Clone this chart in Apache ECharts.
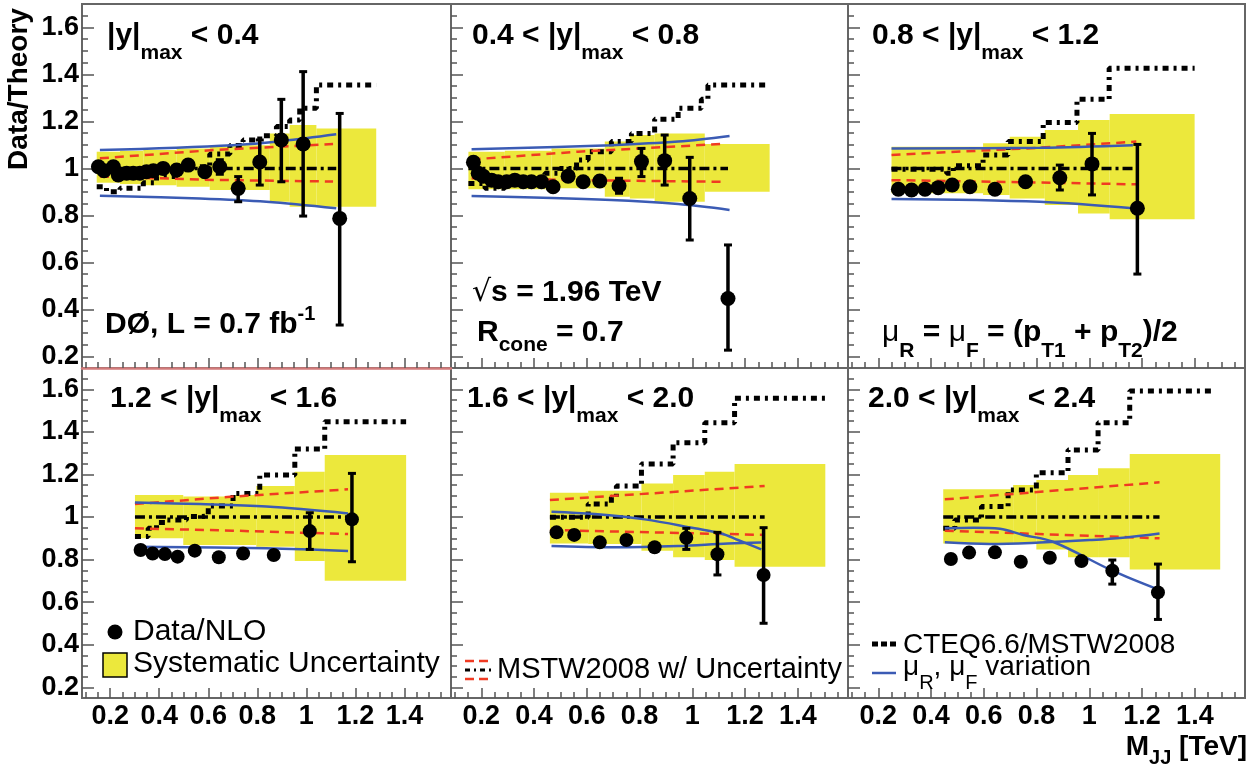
<!DOCTYPE html>
<html><head><meta charset="utf-8">
<script src="https://cdn.jsdelivr.net/npm/echarts@6/dist/echarts.min.js"></script>
<style>html,body{margin:0;padding:0;background:#fff}#c{width:1258px;height:767px}</style>
</head><body><div id="c"></div><script>
// ---------------- DATA ----------------
// Panel 1: |y|max < 0.4
const p1X = [0.152,0.175,0.213,0.233,0.267,0.294,0.321,0.348,0.376,0.416,0.471,0.518,0.586,0.647,0.722,0.810,0.898,0.987,1.136];
const p1Y = [1.007,0.990,1.007,0.972,0.979,0.979,0.979,0.986,0.990,1.000,0.993,1.014,0.986,1.007,0.915,1.027,1.121,1.104,0.787];
const p1ErrLo = [0.997,0.980,0.997,0.962,0.969,0.969,0.969,0.976,0.980,0.990,0.981,1.000,0.970,0.975,0.858,0.929,0.943,0.797,0.333];
const p1ErrHi = [1.017,1.000,1.017,0.982,0.989,0.989,0.989,0.996,1.000,1.010,1.005,1.028,1.002,1.037,0.965,1.121,1.294,1.412,1.234];
const p1BandEdges = [0.145,0.240,0.335,0.471,0.606,0.701,0.851,0.932,1.041,1.285];
const p1BandHi = [1.071,1.075,1.078,1.085,1.092,1.099,1.149,1.185,1.170];
const p1BandLo = [0.939,0.933,0.928,0.922,0.908,0.908,0.858,0.837,0.837];
const p1CteqEdges = [0.145,0.185,0.240,0.335,0.389,0.471,0.606,0.688,0.742,0.810,0.878,0.932,0.973,1.041,1.285];
const p1CteqVals = [0.922,0.901,0.915,0.939,0.965,1.007,1.061,1.097,1.121,1.139,1.178,1.206,1.256,1.355];
const p1MstwRange = [0.145,1.122];
const p1RedX = [0.158,0.620,1.109];
const p1RedUp = [1.043,1.078,1.104];
const p1RedLo = [0.965,0.951,0.944];
const p1BlueUpX = [0.158,0.701,0.905,1.122];
const p1BlueUp = [1.078,1.099,1.117,1.145];
const p1BlueLoX = [0.158,0.566,0.837,1.122];
const p1BlueLo = [0.884,0.872,0.858,0.830];

// Panel 2: 0.4 < |y|max < 0.8
const p2X = [0.170,0.188,0.207,0.239,0.264,0.296,0.327,0.359,0.390,0.428,0.472,0.529,0.586,0.649,0.722,0.807,0.895,0.990,1.135];
const p2Y = [1.026,0.979,0.967,0.950,0.943,0.943,0.950,0.943,0.943,0.943,0.922,0.967,0.943,0.946,0.926,1.029,1.033,0.872,0.446];
const p2ErrLo = [1.016,0.969,0.957,0.940,0.933,0.933,0.940,0.933,0.933,0.933,0.912,0.957,0.933,0.936,0.894,0.965,0.929,0.695,0.226];
const p2ErrHi = [1.036,0.989,0.977,0.960,0.953,0.953,0.960,0.953,0.953,0.953,0.932,0.977,0.953,0.956,0.958,1.085,1.142,1.047,0.674];
const p2BandEdges = [0.151,0.289,0.466,0.668,0.763,0.857,1.047,1.293];
const p2BandHi = [1.071,1.075,1.085,1.114,1.142,1.149,1.104];
const p2BandLo = [0.911,0.911,0.915,0.879,0.872,0.858,0.901];
const p2CteqEdges = [0.151,0.214,0.289,0.441,0.498,0.561,0.605,0.693,0.769,0.857,0.946,1.034,1.059,1.293];
const p2CteqVals = [0.936,0.915,0.943,0.979,1.000,1.036,1.071,1.114,1.149,1.209,1.256,1.294,1.355];
const p2MstwRange = [0.151,1.135];
const p2RedX = [0.163,0.567,1.110];
const p2RedUp = [1.038,1.071,1.104];
const p2RedLo = [0.958,0.950,0.943];
const p2BlueUpX = [0.163,0.693,0.946,1.141];
const p2BlueUp = [1.081,1.099,1.114,1.138];
const p2BlueLoX = [0.163,0.693,0.946,1.141];
const p2BlueLo = [0.882,0.865,0.848,0.823];

// Panel 3: 0.8 < |y|max < 1.2
const p3X = [0.276,0.326,0.377,0.427,0.480,0.547,0.642,0.758,0.888,1.010,1.182];
const p3Y = [0.911,0.908,0.911,0.918,0.929,0.922,0.911,0.943,0.960,1.019,0.830];
const p3ErrLo = [0.901,0.898,0.901,0.908,0.919,0.912,0.901,0.930,0.908,0.887,0.550];
const p3ErrHi = [0.921,0.918,0.921,0.928,0.939,0.932,0.921,0.956,1.014,1.149,1.102];
const p3BandEdges = [0.250,0.597,0.698,0.831,0.957,1.077,1.399];
const p3BandHi = [1.092,1.107,1.135,1.163,1.206,1.232];
const p3BandLo = [0.894,0.887,0.872,0.844,0.808,0.783];
const p3CteqEdges = [0.250,0.459,0.484,0.597,0.692,0.825,0.953,1.075,1.399];
const p3CteqVals = [0.996,0.979,1.011,1.057,1.114,1.195,1.294,1.426];
const p3MstwRange = [0.250,1.178];
const p3RedX = [0.250,0.812,1.178];
const p3RedUp = [1.057,1.088,1.114];
const p3RedLo = [0.950,0.940,0.932];
const p3BlueUpX = [0.250,0.812,1.165];
const p3BlueUp = [1.085,1.088,1.099];
const p3BlueLoX = [0.250,0.812,1.165];
const p3BlueLo = [0.870,0.858,0.830];

// Panel 4: 1.2 < |y|max < 1.6
const p4X = [0.324,0.373,0.423,0.475,0.545,0.643,0.742,0.867,1.014,1.186];
const p4Y = [0.845,0.829,0.826,0.814,0.842,0.811,0.829,0.822,0.934,0.989];
const p4ErrLo = [0.835,0.819,0.816,0.804,0.832,0.801,0.819,0.812,0.848,0.790];
const p4ErrHi = [0.855,0.839,0.836,0.824,0.852,0.821,0.839,0.832,1.020,1.205];
const p4BandEdges = [0.301,0.498,0.701,0.796,0.953,1.075,1.407];
const p4BandHi = [1.103,1.096,1.103,1.146,1.213,1.291];
const p4BandLo = [0.900,0.869,0.869,0.861,0.793,0.701];
const p4CteqEdges = [0.301,0.355,0.389,0.430,0.511,0.566,0.600,0.701,0.810,0.953,1.075,1.407];
const p4CteqVals = [0.908,0.947,0.974,0.986,1.002,1.005,1.052,1.111,1.197,1.320,1.448];
const p4MstwRange = [0.301,1.170];
const p4RedX = [0.301,0.701,1.170];
const p4RedUp = [1.061,1.096,1.130];
const p4RedLo = [0.947,0.936,0.920];
const p4BlueUpX = [0.301,0.566,0.837,1.170];
const p4BlueUp = [1.068,1.061,1.049,1.017];
const p4BlueLoX = [0.301,0.837,1.170];
const p4BlueLo = [0.861,0.853,0.840];

// Panel 5: 1.6 < |y|max < 2.0
const p5X = [0.485,0.552,0.649,0.750,0.857,0.977,1.095,1.270];
const p5Y = [0.928,0.916,0.881,0.892,0.858,0.903,0.825,0.728];
const p5ErrLo = [0.918,0.906,0.871,0.882,0.848,0.848,0.728,0.501];
const p5ErrHi = [0.938,0.926,0.891,0.902,0.868,0.947,0.928,0.950];
const p5BandEdges = [0.460,0.605,0.807,0.927,1.047,1.160,1.504];
const p5BandHi = [1.114,1.124,1.158,1.197,1.213,1.249];
const p5BandLo = [0.876,0.873,0.842,0.811,0.798,0.767];
const p5CteqEdges = [0.460,0.605,0.693,0.712,0.807,0.927,1.047,1.160,1.504];
const p5CteqVals = [0.999,1.061,1.093,1.146,1.249,1.349,1.443,1.558];
const p5MstwRange = [0.460,1.274];
const p5RedX = [0.460,1.274];
const p5RedUp = [1.080,1.146];
const p5RedLo = [0.939,0.916];
const p5BlueUpX = [0.466,0.630,0.820,1.009,1.110,1.173,1.261];
const p5BlueUp = [1.025,1.014,0.989,0.947,0.923,0.892,0.848];
const p5BlueLoX = [0.466,0.693,0.946,1.135,1.261];
const p5BlueLo = [0.864,0.858,0.864,0.876,0.880];

// Panel 6: 2.0 < |y|max < 2.4
const p6X = [0.475,0.544,0.642,0.740,0.850,0.970,1.087,1.260];
const p6Y = [0.803,0.833,0.834,0.790,0.809,0.793,0.748,0.646];
const p6ErrLo = [0.793,0.823,0.824,0.780,0.799,0.783,0.685,0.519];
const p6ErrHi = [0.813,0.843,0.844,0.800,0.819,0.803,0.798,0.779];
const p6BandEdges = [0.446,0.711,0.799,0.919,1.033,1.153,1.496];
const p6BandHi = [1.130,1.150,1.174,1.197,1.229,1.296];
const p6BandLo = [0.876,0.876,0.848,0.811,0.811,0.754];
const p6CteqEdges = [0.446,0.490,0.591,0.692,0.799,0.919,1.033,1.153,1.475];
const p6CteqVals = [0.947,0.986,1.049,1.127,1.208,1.315,1.443,1.592];
const p6MstwRange = [0.446,1.266];
const p6RedX = [0.452,1.266];
const p6RedUp = [1.083,1.163];
const p6RedLo = [0.936,0.900];
const p6BlueUpX = [0.452,0.560,0.661,0.749,0.862,1.087,1.260];
const p6BlueUp = [0.947,0.950,0.945,0.916,0.884,0.748,0.660];
const p6BlueLoX = [0.452,0.623,0.812,1.001,1.127,1.266];
const p6BlueLo = [0.881,0.873,0.880,0.892,0.903,0.923];

// Axis ticks / labels
const xMajorTicks = [0.2,0.4,0.6,0.8,1.0,1.2,1.4];
const yMajorTicks = [0.2,0.4,0.6,0.8,1.0,1.2,1.4,1.6];
const panelTitles = [['','0.4'],['0.4 < ','0.8'],['0.8 < ','1.2'],['1.2 < ','1.6'],['1.6 < ','2.0'],['2.0 < ','2.4']];

// ---------------- LAYOUT / STYLE ----------------
const X_MIN = 0.085, X_MAX = 1.59, Y_MIN = 0.15, Y_MAX = 1.70;
const FONT = '"Liberation Sans", Arial, Helvetica, sans-serif';
const YELLOW = '#ece83c', BLUE = '#3b5bb4', RED = '#f03a22', FRAME = '#666';
const gridBoxes = [[82,4,369,364],[451,4,397,364],[848,4,397,364],[82,368,369,330],[451,368,397,330],[848,368,397,330]];

function rng(a,b,s){const o=[];for(let v=a;v<=b+1e-9;v+=s)o.push(Math.round(v*1000)/1000);return o;}
const xMinorTicks = rng(0.1,1.55,0.05);
const yMinorTicks = rng(0.2,1.65,0.05);
function fmt(v){const r=Math.round(v*100)/100;return Math.abs(r-1)<1e-9?'1':r.toFixed(1);}
function zip(a,b){return a.map((x,k)=>[x,b[k]]);}
function stepPts(e,v){const p=[];v.forEach((y,k)=>{p.push([e[k],y]);p.push([e[k+1],y]);});return p;}

const panels = [
 [p1X,p1Y,p1ErrLo,p1ErrHi,p1BandEdges,p1BandLo,p1BandHi,p1CteqEdges,p1CteqVals,p1MstwRange,p1RedX,p1RedUp,p1RedLo,p1BlueUpX,p1BlueUp,p1BlueLoX,p1BlueLo],
 [p2X,p2Y,p2ErrLo,p2ErrHi,p2BandEdges,p2BandLo,p2BandHi,p2CteqEdges,p2CteqVals,p2MstwRange,p2RedX,p2RedUp,p2RedLo,p2BlueUpX,p2BlueUp,p2BlueLoX,p2BlueLo],
 [p3X,p3Y,p3ErrLo,p3ErrHi,p3BandEdges,p3BandLo,p3BandHi,p3CteqEdges,p3CteqVals,p3MstwRange,p3RedX,p3RedUp,p3RedLo,p3BlueUpX,p3BlueUp,p3BlueLoX,p3BlueLo],
 [p4X,p4Y,p4ErrLo,p4ErrHi,p4BandEdges,p4BandLo,p4BandHi,p4CteqEdges,p4CteqVals,p4MstwRange,p4RedX,p4RedUp,p4RedLo,p4BlueUpX,p4BlueUp,p4BlueLoX,p4BlueLo],
 [p5X,p5Y,p5ErrLo,p5ErrHi,p5BandEdges,p5BandLo,p5BandHi,p5CteqEdges,p5CteqVals,p5MstwRange,p5RedX,p5RedUp,p5RedLo,p5BlueUpX,p5BlueUp,p5BlueLoX,p5BlueLo],
 [p6X,p6Y,p6ErrLo,p6ErrHi,p6BandEdges,p6BandLo,p6BandHi,p6CteqEdges,p6CteqVals,p6MstwRange,p6RedX,p6RedUp,p6RedLo,p6BlueUpX,p6BlueUp,p6BlueLoX,p6BlueLo]
];

const grid=[], xAxis=[], yAxis=[], series=[];
const tickStyle = {color:'#555', width:1.5};
gridBoxes.forEach((b,i)=>{
  grid.push({left:b[0],top:b[1],width:b[2],height:b[3],show:true,borderColor:FRAME,borderWidth:2,backgroundColor:'transparent'});
  const bottomRow = i>=3, leftCol = (i===0||i===3);
  xAxis.push({gridIndex:i,type:'value',min:X_MIN,max:X_MAX,position:'bottom',splitLine:{show:false},
    axisLine:{show:i===0,onZero:false,lineStyle:{color:'#d27a7a',width:2.5}},
    axisTick:{show:true,inside:true,length:10,customValues:xMajorTicks,lineStyle:tickStyle},
    axisLabel:{show:bottomRow,customValues:xMajorTicks,formatter:fmt,fontSize:27,fontWeight:'bold',fontFamily:FONT,color:'#000',margin:5}});
  xAxis.push({gridIndex:i,type:'value',min:X_MIN,max:X_MAX,position:'bottom',splitLine:{show:false},
    axisLine:{show:false,onZero:false},axisTick:{show:true,inside:true,length:6,customValues:xMinorTicks,lineStyle:tickStyle},
    axisLabel:{show:false}});
  yAxis.push({gridIndex:i,type:'value',min:Y_MIN,max:Y_MAX,position:'left',splitLine:{show:false},
    axisLine:{show:false,onZero:false},
    axisTick:{show:true,inside:true,length:12,customValues:yMajorTicks,lineStyle:tickStyle},
    axisLabel:{show:leftCol,customValues:yMajorTicks,formatter:fmt,fontSize:27,fontWeight:'bold',fontFamily:FONT,color:'#000',margin:3}});
  yAxis.push({gridIndex:i,type:'value',min:Y_MIN,max:Y_MAX,position:'left',splitLine:{show:false},
    axisLine:{show:false,onZero:false},axisTick:{show:true,inside:true,length:6,customValues:yMinorTicks,lineStyle:tickStyle},
    axisLabel:{show:false}});

  const P = panels[i];
  const [dX,dY,eLo,eHi,bE,bL,bH,cE,cV,mR,rX,rU,rL,buX,buY,blX,blY] = P;
  const ax = {xAxisIndex:2*i,yAxisIndex:2*i};
  series.push(Object.assign({type:'custom',z:1,silent:true,clip:true,
    data:bE.slice(0,-1).map((e,k)=>[e,bE[k+1],bL[k],bH[k]]),
    encode:{x:[0,1],y:[2,3]},
    renderItem:(params,api)=>{
      const a=api.coord([api.value(0),api.value(3)]), c=api.coord([api.value(1),api.value(2)]);
      return {type:'rect',shape:{x:a[0],y:a[1],width:c[0]-a[0],height:c[1]-a[1]},style:{fill:YELLOW}};
    }},ax));
  const line=(data,ls,z,smooth)=>series.push(Object.assign({type:'line',data,z,silent:true,symbol:'none',showSymbol:false,smooth:smooth||false,lineStyle:ls,clip:true},ax));
  line(stepPts(cE,cV),{color:'#000',width:5,type:[6,5,3,5]},3);
  line([[mR[0],1],[mR[1],1]],{color:'#000',width:3.5,type:[10,4,3,4]},3);
  line(zip(rX,rU),{color:RED,width:2.5,type:[9,6]},4);
  line(zip(rX,rL),{color:RED,width:2.5,type:[9,6]},4);
  line(zip(buX,buY),{color:BLUE,width:2.5,type:'solid'},4,0.35);
  line(zip(blX,blY),{color:BLUE,width:2.5,type:'solid'},4,0.35);
  series.push(Object.assign({type:'custom',z:8,silent:true,clip:false,
    data:dX.map((x,k)=>[x,eLo[k],eHi[k]]),
    encode:{x:0,y:[1,2]},
    renderItem:(params,api)=>{
      const t=api.coord([api.value(0),api.value(2)]), b=api.coord([api.value(0),api.value(1)]), w=4;
      return {type:'group',children:[
        {type:'line',shape:{x1:t[0],y1:t[1],x2:b[0],y2:b[1]},style:{stroke:'#000',lineWidth:3.5}},
        {type:'line',shape:{x1:t[0]-w,y1:t[1],x2:t[0]+w,y2:t[1]},style:{stroke:'#000',lineWidth:3}},
        {type:'line',shape:{x1:b[0]-w,y1:b[1],x2:b[0]+w,y2:b[1]},style:{stroke:'#000',lineWidth:3}}]};
    }},ax));
  series.push(Object.assign({type:'scatter',z:10,silent:true,data:zip(dX,dY),symbol:'circle',symbolSize:i<3?15:14,
    itemStyle:{color:'#000',opacity:1,borderWidth:0}},ax));
});

// ---------------- TEXT (graphic) ----------------
const gfx=[];
const mctx=document.createElement('canvas').getContext('2d');
function compose(x,y,segs,align){
  const ws=segs.map(s=>{mctx.font=`${s.w||'bold'} ${s.s}px ${s.f||FONT}`;return mctx.measureText(s.t).width;});
  const tot=ws.reduce((a,b)=>a+b,0);
  let cx = align==='right'? x-tot : x;
  segs.forEach((s,k)=>{
    gfx.push({type:'text',x:cx,y:y+(s.dy||0),z:100,silent:true,
      style:{text:s.t,fontSize:s.s,fontWeight:s.w||'bold',fontFamily:s.f||FONT,fill:s.c||'#000',
             align:'left',verticalAlign:'middle',textAlign:'left',textVerticalAlign:'middle'}});
    cx+=ws[k];
  });
}
const titlePos=[[107,36],[472,36],[872,36],[110,399],[467,399],[868,399]];
panelTitles.forEach((t,i)=>{
  compose(titlePos[i][0],titlePos[i][1],[{t:t[0]+'|y|',s:30},{t:'max',s:21,dy:17},{t:' < '+t[1],s:30}]);
});
compose(105,325,[{t:'DØ, L = 0.7 fb',s:30},{t:'-1',s:20,dy:-11}]);
compose(472,293,[{t:'√',s:30,w:'normal',f:'"DejaVu Sans", sans-serif'},{t:'s = 1.96 TeV',s:30}]);
compose(477,333,[{t:'R',s:30},{t:'cone',s:21,dy:12},{t:' = 0.7',s:30}]);
compose(882,333,[{t:'μ',s:30,w:'normal'},{t:'R',s:21,dy:18},{t:' = ',s:30},{t:'μ',s:30,w:'normal'},{t:'F',s:21,dy:18},
  {t:' = (p',s:30},{t:'T1',s:21,dy:18},{t:' + p',s:30},{t:'T2',s:21,dy:18},{t:')/2',s:30}]);
// legends
gfx.push({type:'circle',shape:{cx:115,cy:632,r:7.5},style:{fill:'#000'},z:100,silent:true});
compose(133,632,[{t:'Data/NLO',s:30,w:'normal'}]);
gfx.push({type:'rect',shape:{x:103,y:653,width:24,height:24},style:{fill:YELLOW,stroke:'#000',lineWidth:1.5},z:100,silent:true});
compose(133,664,[{t:'Systematic Uncertainty',s:30,w:'normal'}]);
gfx.push({type:'line',shape:{x1:465,y1:661,x2:493,y2:661},style:{stroke:RED,lineWidth:2.5,lineDash:[9,5]},z:100,silent:true});
gfx.push({type:'line',shape:{x1:465,y1:679,x2:493,y2:679},style:{stroke:RED,lineWidth:2.5,lineDash:[9,5]},z:100,silent:true});
gfx.push({type:'line',shape:{x1:465,y1:670,x2:493,y2:670},style:{stroke:'#000',lineWidth:3,lineDash:[5,4,2,4]},z:100,silent:true});
compose(497,670,[{t:'MSTW2008 w/ Uncertainty',s:29,w:'normal'}]);
gfx.push({type:'line',shape:{x1:872,y1:644,x2:896,y2:644},style:{stroke:'#000',lineWidth:5,lineDash:[6,3]},z:100,silent:true});
compose(903,645,[{t:'CTEQ6.6/MSTW2008',s:28,w:'normal'}]);
gfx.push({type:'line',shape:{x1:872,y1:673,x2:896,y2:673},style:{stroke:BLUE,lineWidth:2.5},z:100,silent:true});
compose(903,667,[{t:'μ',s:28,w:'normal'},{t:'R',s:20,w:'normal',dy:16},{t:', ',s:28,w:'normal'},{t:'μ',s:28,w:'normal'},{t:'F',s:20,w:'normal',dy:16},{t:' variation',s:28,w:'normal'}]);
// axis titles
compose(1247,747,[{t:'M',s:28},{t:'JJ',s:20,dy:11},{t:' [TeV]',s:28}],'right');
gfx.push({type:'text',x:19,y:89,rotation:Math.PI/2,z:100,silent:true,
  style:{text:'Data/Theory',fontSize:28,fontWeight:'bold',fontFamily:FONT,fill:'#000',align:'center',verticalAlign:'middle',textAlign:'center',textVerticalAlign:'middle'}});

const chart=echarts.init(document.getElementById('c'),null,{renderer:'canvas'});
chart.setOption({animation:false,backgroundColor:'#fff',grid,xAxis,yAxis,series,graphic:{elements:gfx}});
</script></body></html>
